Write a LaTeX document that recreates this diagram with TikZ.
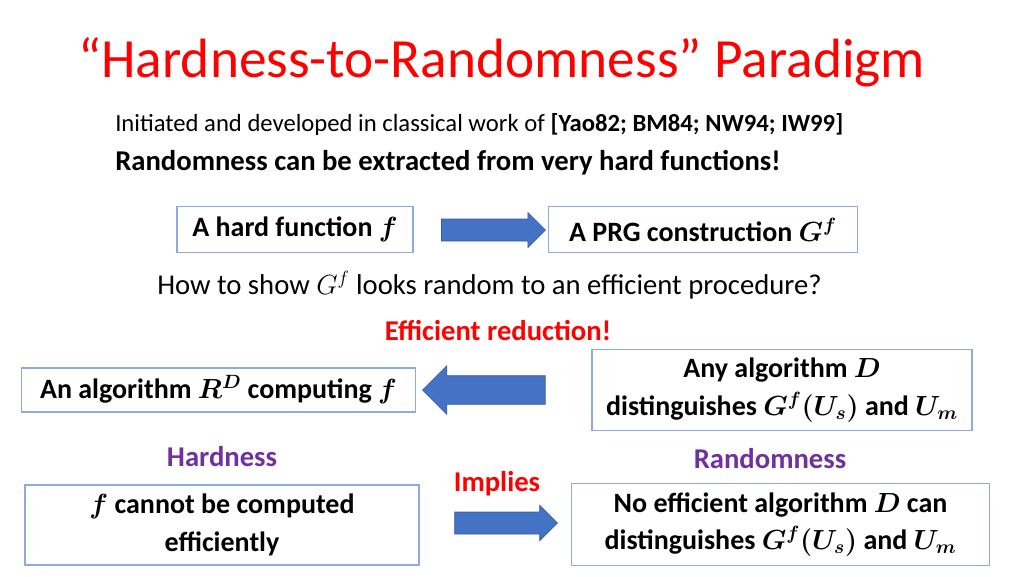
\documentclass[tikz,border=0pt]{standalone}
\usepackage{fontspec}
\setmainfont{Carlito}
\usepackage{amsmath}
\usetikzlibrary{shapes.arrows}
\definecolor{titlered}{HTML}{FF0000}
\definecolor{boxline}{HTML}{8FAADC}
\definecolor{arrowblue}{HTML}{4472C4}
\definecolor{purp}{HTML}{7030A0}
\tikzset{
 box/.style={draw=boxline, line width=0.8pt, align=center, font=\fontsize{21}{28}\selectfont\bfseries\boldmath, inner sep=0pt},
 barrow/.style={single arrow, fill=arrowblue, draw=arrowblue!80!black, line width=0.5pt, inner sep=0pt, text width=0pt},
 lab/.style={font=\fontsize{21.5}{25}\selectfont\bfseries},
}
\begin{document}
\begin{tikzpicture}[x=0.75pt,y=-0.75pt]
\useasboundingbox (0,0) rectangle (1024,576);
\node (title) [anchor=west, text=titlered, font=\fontsize{41.5}{46}\selectfont, inner sep=0pt] at (78,62) {“Hardness-to-Randomness” Paradigm};
\node (init) [anchor=west, font=\fontsize{18.5}{22}\selectfont, inner sep=0pt] at (115,124) {Initiated and developed in classical work of \textbf{[Yao82; BM84; NW94; IW99]}};
\node (claim) [anchor=west, lab, inner sep=0pt] at (115,163) {Randomness can be extracted from very hard functions!};
\node (hard) [box, minimum width=177pt, minimum height=34pt] at (295,229.5) {A hard function $f$};
\node (prg) [box, minimum width=232pt, minimum height=34pt] at (703,229.5) {A PRG construction $G^f$};
\node (a1) [barrow, text height=8pt, text depth=8pt, single arrow head extend=5pt, minimum height=78pt] at (488,230) {};
\node (how) [anchor=west, font=\fontsize{21.5}{25}\selectfont, inner sep=0pt] at (157,285) {How to show $G^f$ looks random to an efficient procedure?};
\node (eff) [text=titlered, lab] at (498,331) {Efficient reduction!};
\node (alg) [box, minimum width=295pt, minimum height=33pt] at (218.5,390) {An algorithm $R^D$ computing $f$};
\node (anyd) [box, minimum width=285pt, minimum height=61pt] at (782,390) {Any algorithm $D$\\distinguishes $G^f(U_s)$ and $U_m$};
\node (a2) [barrow, text height=10.5pt, text depth=10.5pt, single arrow head extend=7.5pt, minimum height=92pt, shape border rotate=180] at (491,390) {};
\node (hlab) [text=purp, lab] at (222,457) {Hardness};
\node (rlab) [text=purp, lab] at (770,459) {Randomness};
\node (impl) [text=titlered, lab] at (497,484) {Implies};
\node (cannot) [box, minimum width=295.5pt, minimum height=60pt] at (222,525) {$f$ cannot be computed\\efficiently};
\node (noeff) [box, minimum width=313pt, minimum height=62pt] at (780.5,524.5) {No efficient algorithm $D$ can\\distinguishes $G^f(U_s)$ and $U_m$};
\node (a3) [barrow, text height=8pt, text depth=8pt, single arrow head extend=5pt, minimum height=77pt] at (500.5,523) {};
\end{tikzpicture}
\end{document}
